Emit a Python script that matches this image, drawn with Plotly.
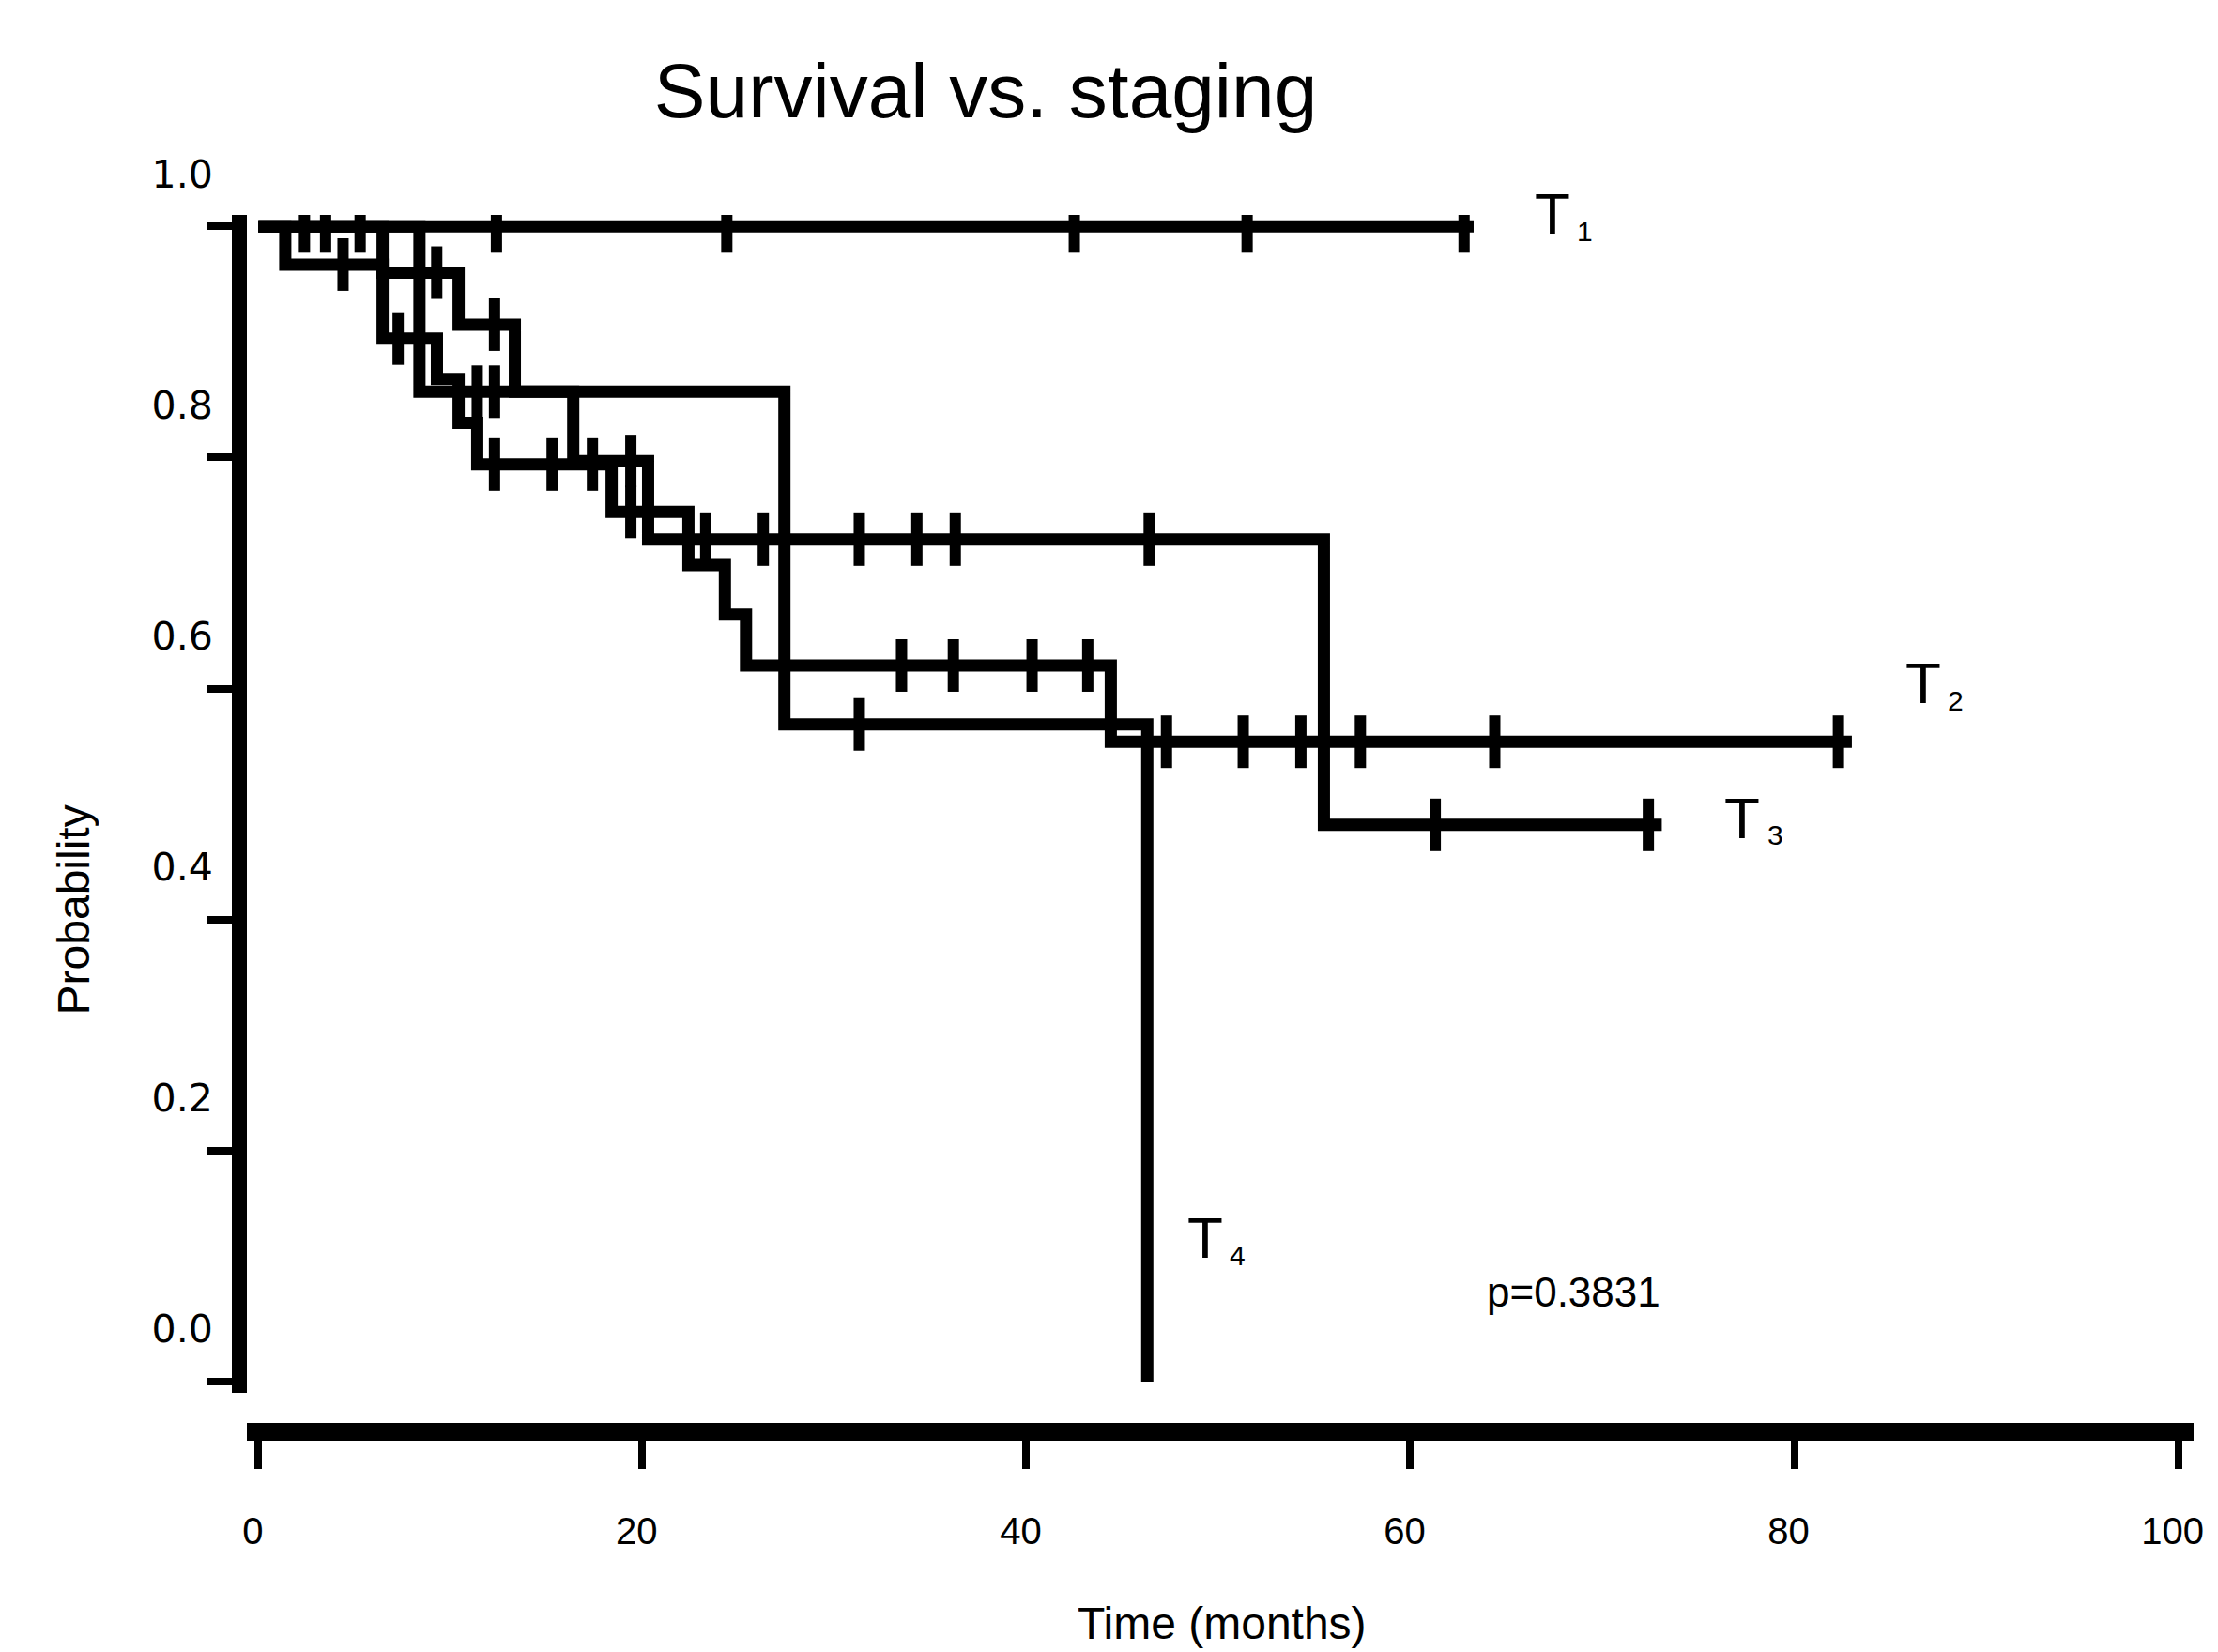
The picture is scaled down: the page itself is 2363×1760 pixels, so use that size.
import numpy as np
import plotly.graph_objects as go

# ---------------- data ----------------
# Kaplan-Meier step curves: event times (months) and survival after each event
t1_times = [0.0]
t1_surv = [1.0]
t1_end = 63.3
t1_cens = [2.4, 3.5, 5.3, 12.4, 24.4, 42.5, 51.5, 62.8]

t2_times = [0.0, 1.4, 6.47, 9.3, 10.43, 11.4, 18.4, 22.4, 24.3, 25.4, 44.4]
t2_surv = [1.0, 0.967, 0.903, 0.868, 0.830, 0.794, 0.753, 0.707, 0.664, 0.620, 0.554]
t2_end = 83.0
t2_cens = [4.41, 7.28, 12.3, 15.3, 17.4, 19.4, 33.5, 36.2, 40.3, 43.2,
           47.3, 51.3, 54.3, 57.4, 64.4, 82.3]

t3_times = [0.0, 6.47, 10.43, 13.36, 16.4, 20.3, 55.5]
t3_surv = [1.0, 0.960, 0.915, 0.857, 0.797, 0.729, 0.482]
t3_end = 73.1
t3_cens = [9.29, 12.3, 19.4, 23.3, 26.3, 31.3, 34.3, 36.3, 46.4, 61.3, 72.4]

t4_times = [0.0, 8.39, 27.4, 46.3]
t4_surv = [1.0, 0.857, 0.569, 0.0]
t4_end = None
t4_cens = [11.4, 12.3, 31.3]

curve_labels = ["T1", "T2", "T3", "T4"]
p_value_text = "p=0.3831"

x_ticks = [0, 20, 40, 60, 80, 100]
y_ticks = [0.0, 0.2, 0.4, 0.6, 0.8, 1.0]
y_tick_text = ["0.0", "0.2", "0.4", "0.6", "0.8", "1.0"]

# label anchors: x in months, y as fraction of the plotting area height
label_pos = {"T1": (67.4, 1.0008), "T2": (86.7, 0.615), "T3": (77.3, 0.504), "T4": (49.3, 0.159)}

curves = [
    (t1_times, t1_surv, t1_end, t1_cens),
    (t2_times, t2_surv, t2_end, t2_cens),
    (t3_times, t3_surv, t3_end, t3_cens),
    (t4_times, t4_surv, t4_end, t4_cens),
]

LW = 13
fig = go.Figure()
for name, (tt, ss, end, cens) in zip(curve_labels, curves):
    xs = list(tt)
    ys = list(ss)
    if end is not None:
        xs.append(end)
        ys.append(ss[-1])
    fig.add_trace(go.Scatter(x=xs, y=ys, mode="lines", line=dict(color="black", width=LW, shape="hv"),
                             name=name, hoverinfo="skip"))
    tarr = np.array(tt)
    sarr = np.array(ss)
    cy = [float(sarr[np.searchsorted(tarr, c, side="right") - 1]) for c in cens]
    fig.add_trace(go.Scatter(x=cens, y=cy, mode="markers",
                             marker=dict(symbol="line-ns", size=40, color="black",
                                         line=dict(color="black", width=12)),
                             name=name + " censored", hoverinfo="skip"))

FONT = "Liberation Sans, Arial"
annotations = []
for name in curve_labels:
    tx, ty = label_pos[name]
    annotations.append(dict(x=tx, y=ty, xref="x", yref="paper", text="T", showarrow=False,
                            font=dict(family=FONT, size=62, color="black"),
                            xanchor="center", yanchor="middle"))
    annotations.append(dict(x=tx + 1.7, y=ty - 0.014, xref="x", yref="paper", text=name[1:], showarrow=False,
                            font=dict(family=FONT, size=30, color="black"),
                            xanchor="center", yanchor="middle"))
annotations.append(dict(x=68.5, y=0.078, xref="x", yref="y", text=p_value_text, showarrow=False,
                        font=dict(family=FONT, size=44, color="black"),
                        xanchor="center", yanchor="middle"))
annotations.append(dict(x=-0.089, y=0.429, xref="paper", yref="paper", text="Probability", showarrow=False,
                        textangle=-90, font=dict(family=FONT, size=48, color="black"),
                        xanchor="center", yanchor="middle"))
annotations.append(dict(x=0.501, y=-0.158, xref="paper", yref="paper", text="Time (months)", showarrow=False,
                        font=dict(family=FONT, size=48, color="black"),
                        xanchor="center", yanchor="middle"))

fig.update_layout(
    width=2363, height=1760,
    margin=dict(l=255, r=34, t=221, b=243, autoexpand=False),
    paper_bgcolor="white", plot_bgcolor="white",
    showlegend=False,
    title=dict(text="Survival vs. staging", x=0.4410, xanchor="center", y=0.950, yanchor="middle",
               font=dict(family=FONT, size=82, color="black")),
    annotations=annotations,
    xaxis=dict(range=[-0.6, 100.8], anchor="free", position=0, showgrid=False, zeroline=False,
               showline=True, linecolor="black", linewidth=19,
               ticks="outside", ticklen=30, tickwidth=8, tickcolor="black",
               tickvals=x_ticks, ticktext=[str(v) for v in x_ticks],
               tickfont=dict(family=FONT, size=40, color="black"),
               ticklabelstandoff=32, ticklabelshift=-6),
    yaxis=dict(range=[-0.01, 1.01], domain=[0.0314, 1], showgrid=False, zeroline=False,
               showline=True, linecolor="black", linewidth=16,
               ticks="outside", ticklen=27, tickwidth=8, tickcolor="black",
               tickvals=y_ticks, ticktext=y_tick_text,
               tickfont=dict(family="DejaVu Sans", size=41, color="black"),
               ticklabelshift=-56, ticklabelstandoff=-15),
)

fig.write_html("out.html")
